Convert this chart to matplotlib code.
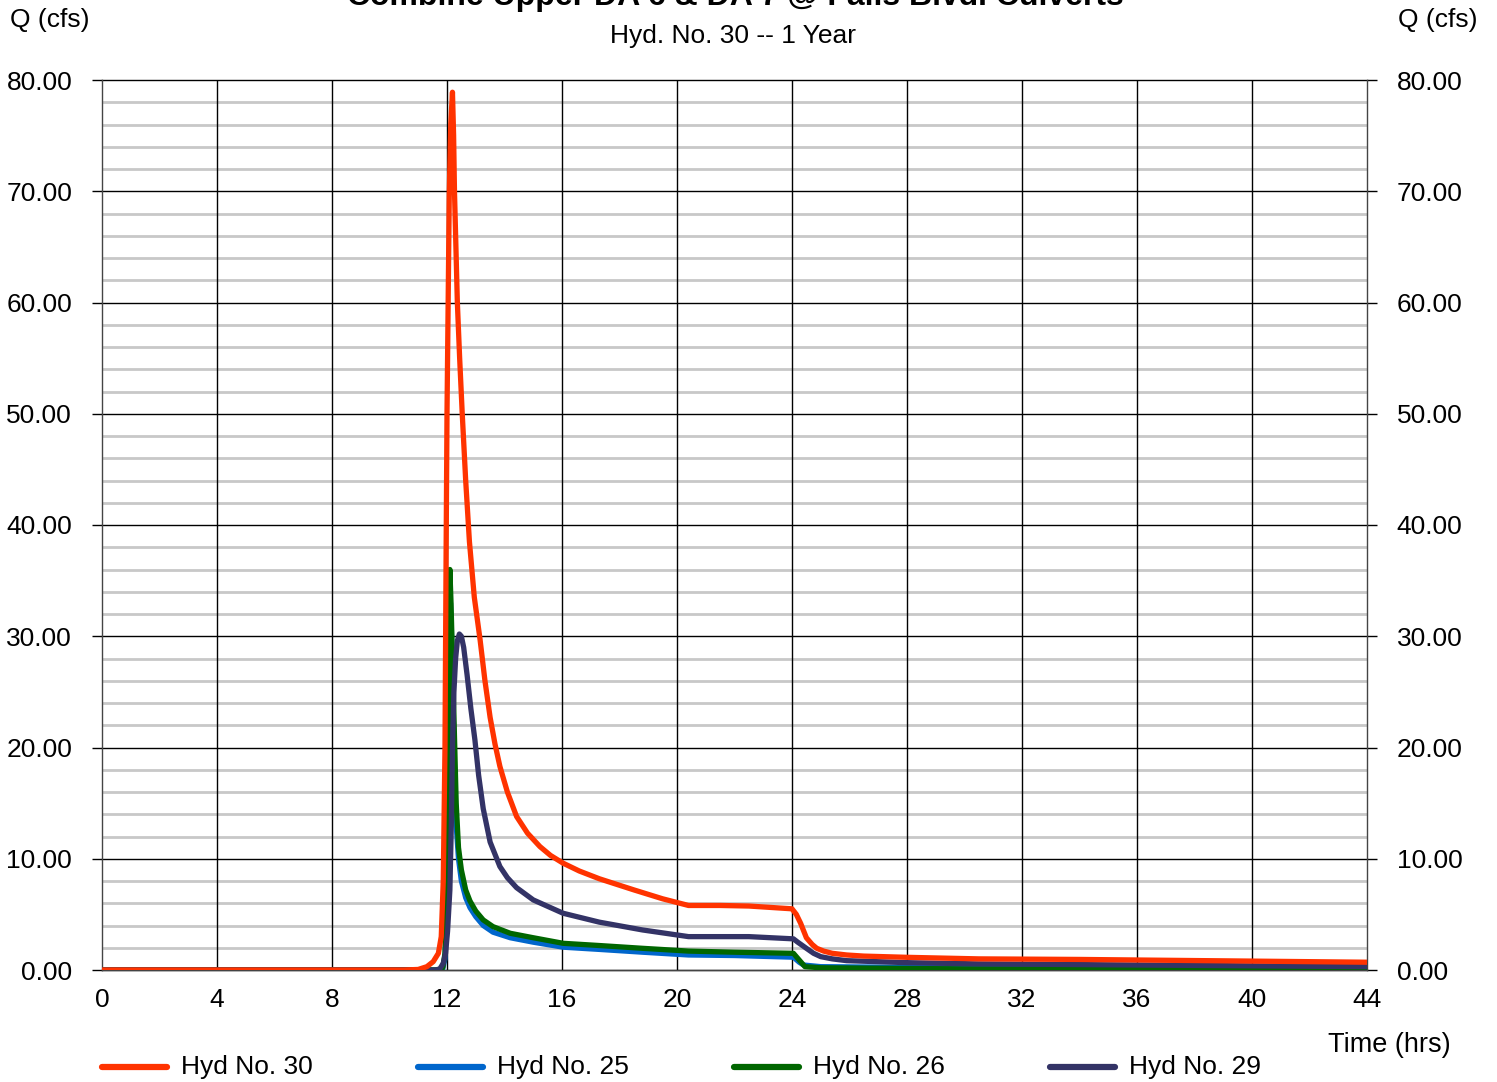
import matplotlib
matplotlib.use("Agg")
import matplotlib.pyplot as plt
from matplotlib.lines import Line2D

plt.rcParams['font.family'] = ['Liberation Sans', 'DejaVu Sans']

# Hyd No. 30 (combined)
t30 = [0, 10.5, 11.0, 11.3, 11.52, 11.7, 11.8, 11.87, 11.93, 11.97, 12.0, 12.04, 12.08, 12.13,
       12.19, 12.23, 12.26, 12.31, 12.36, 12.44, 12.53, 12.65, 12.78, 12.95, 13.15, 13.32, 13.5,
       13.67, 13.84, 14.1, 14.42, 14.8, 15.23, 15.6, 16.04, 16.6, 17.3, 18.5, 19.5, 20.4, 21.5,
       22.5, 24.0, 24.15, 24.3, 24.5, 24.7, 24.86, 25.1, 25.4, 25.9, 26.5, 28, 30.5, 34, 38, 44]
q30 = [0, 0, 0.05, 0.3, 0.75, 1.5, 3, 8, 20, 38, 50, 60, 70, 76,
       78.9, 75, 70, 65, 60, 55, 50, 44, 38.5, 33.5, 29.7, 26, 22.7,
       20.3, 18.3, 16, 13.8, 12.3, 11.1, 10.3, 9.6, 8.9, 8.2, 7.2, 6.4, 5.8, 5.8,
       5.75, 5.5, 5.0, 4.2, 2.9, 2.3, 1.95, 1.7, 1.5, 1.35, 1.25, 1.14, 1.0, 0.95, 0.85, 0.7]

# Hyd No. 25
t25 = [0, 11.7, 11.85, 11.93, 12.0, 12.05, 12.09, 12.12, 12.16, 12.2, 12.26, 12.32, 12.4, 12.5,
       12.65, 12.8, 13.0, 13.26, 13.6, 14.2, 15.0, 16.04, 17.3, 18.8, 20.4, 22, 24.05, 24.25,
       24.4, 25, 30, 36, 44]
q25 = [0, 0, 0.1, 1, 6, 18, 28, 33, 30, 25, 18, 13, 10, 8,
       6.5, 5.6, 4.8, 4.0, 3.4, 2.9, 2.5, 2.05, 1.85, 1.6, 1.35, 1.3, 1.15, 0.7,
       0.45, 0.3, 0.2, 0.15, 0.1]

# Hyd No. 26
t26 = [0, 11.7, 11.85, 11.93, 12.0, 12.04, 12.07, 12.1, 12.14, 12.18, 12.25, 12.32, 12.4, 12.5,
       12.65, 12.8, 13.0, 13.26, 13.6, 14.2, 15.0, 16.04, 17.3, 18.8, 20.4, 22, 24.05, 24.25,
       24.45, 25, 30, 36, 44]
q26 = [0, 0, 0.2, 1.5, 8, 20, 30, 36, 33, 29, 22, 15, 11, 9,
       7.2, 6.2, 5.3, 4.5, 3.9, 3.3, 2.9, 2.4, 2.2, 1.95, 1.7, 1.6, 1.5, 0.9,
       0.3, 0.2, 0.1, 0.08, 0.05]

# Hyd No. 29
t29 = [0, 11.6, 11.75, 11.87, 11.95, 12.02, 12.1, 12.15, 12.19, 12.24, 12.3, 12.36, 12.43, 12.5,
       12.58, 12.7, 12.83, 12.97, 13.1, 13.26, 13.5, 13.84, 14.1, 14.42, 15.0, 16.04, 17.3, 18.8,
       20.4, 21.2, 22.5, 24.05, 24.2, 24.5, 24.75, 25.0, 25.4, 25.9, 28, 30.5, 36, 44]
q29 = [0, 0, 0.1, 0.6, 1.5, 3.5, 7.2, 13, 20, 25, 28, 29.6, 30.2, 30.0,
       29, 26.5, 23.5, 20.7, 17.5, 14.5, 11.5, 9.3, 8.3, 7.4, 6.3, 5.1, 4.3, 3.6,
       3.0, 3.0, 3.0, 2.8, 2.5, 1.95, 1.5, 1.2, 1.0, 0.84, 0.66, 0.55, 0.45, 0.3]

labels = ["Hyd No. 30", "Hyd No. 25", "Hyd No. 26", "Hyd No. 29"]
colors = ["#FF3300", "#0066CC", "#006600", "#333366"]

x_ticks = list(range(0, 45, 4))
y_ticks = list(range(0, 81, 10))

W, H = 1497, 1082
fig = plt.figure(figsize=(W / 100, H / 100), dpi=100)
ax = fig.add_axes([102 / W, 1 - 970 / H, (1367 - 102) / W, (970 - 80) / H])

ax.set_xlim(0, 44)
ax.set_ylim(0, 80)

# minor (grey) horizontal grid every 2 cfs
for v in range(2, 80, 2):
    if v % 10:
        ax.axhline(v, color="#C8C8C8", lw=2.0, zorder=1)
for v in x_ticks[1:-1]:
    ax.axvline(v, color="black", lw=1.0, zorder=1.5)
for v in y_ticks:
    ax.axhline(v, color="black", lw=1.0, zorder=1.5, clip_on=False)

lw = 3.8
ax.plot(t25, q25, color=colors[1], lw=lw, zorder=3, solid_joinstyle="round")
ax.plot(t26, q26, color=colors[2], lw=lw, zorder=4, solid_joinstyle="round")
ax.plot(t29, q29, color=colors[3], lw=lw, zorder=5, solid_joinstyle="round")
ax.plot(t30, q30, color=colors[0], lw=lw, zorder=6, solid_joinstyle="round")

ax.spines["top"].set_visible(False)
for s in ["left", "right", "bottom"]:
    ax.spines[s].set_color("#444444")
    ax.spines[s].set_linewidth(1.0)

ax.set_xticks(x_ticks)
ax.set_xticklabels([str(v) for v in x_ticks])
ax.set_yticks(y_ticks)
ax.set_yticklabels(["%.2f" % v for v in y_ticks])
ax.tick_params(axis="x", length=0, pad=13, labelsize=19)
ax.tick_params(axis="y", length=7.5, width=1.0, direction="out", pad=14, labelsize=19,
               left=True, right=True, labelleft=True, labelright=True)

fig.text(735 / W, 1 - 5 / H, "Combine Upper DA 6 & DA 7 @ Falls Blvd. Culverts",
         ha="center", va="baseline", fontsize=23, fontweight="bold")
fig.text(733 / W, 1 - 36 / H, "Hyd. No. 30 -- 1 Year", ha="center", va="center", fontsize=19)
fig.text(10 / W, 1 - 20 / H, "Q (cfs)", ha="left", va="center", fontsize=19)
fig.text(1477 / W, 1 - 20 / H, "Q (cfs)", ha="right", va="center", fontsize=19)
fig.text(1451 / W, 1 - 1045 / H, "Time (hrs)", ha="right", va="center", fontsize=19.5)

# legend
y_leg = 1 - 1067 / H
for i, (lab, col) in enumerate(zip(labels, colors)):
    x0 = 102 + 316 * i
    fig.add_artist(Line2D([x0 / W, (x0 + 65) / W], [y_leg, y_leg], color=col, lw=4.5,
                          transform=fig.transFigure, solid_capstyle="round"))
    fig.text((x0 + 79) / W, y_leg, lab, ha="left", va="center", fontsize=19)

fig.savefig("out.png", dpi=100)
